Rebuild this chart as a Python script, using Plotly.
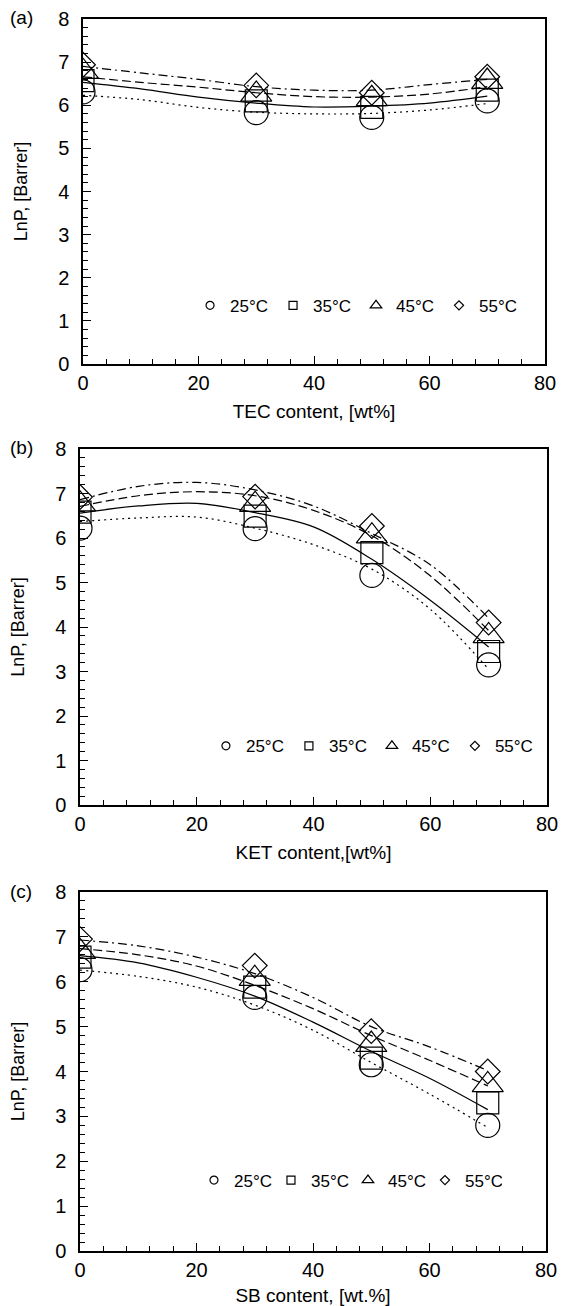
import plotly.graph_objects as go

# ---------------- data ----------------
temps = ["25°C", "35°C", "45°C", "55°C"]
x_pts = [0, 30, 50, 70]
x_fit = [0, 10, 20, 30, 40, 50, 60, 70]

# panel (a) TEC
a_pts = {
    "25°C": [6.31, 5.83, 5.72, 6.10],
    "35°C": [6.57, 6.10, 5.95, 6.35],
    "45°C": [6.78, 6.25, 6.15, 6.55],
    "55°C": [6.94, 6.46, 6.29, 6.66],
}
a_fit = {
    "25°C": [6.23, 6.13, 5.95, 5.84, 5.80, 5.81, 5.89, 6.04],
    "35°C": [6.53, 6.38, 6.19, 6.05, 5.96, 5.98, 6.05, 6.21],
    "45°C": [6.66, 6.53, 6.42, 6.29, 6.20, 6.19, 6.26, 6.43],
    "55°C": [6.90, 6.75, 6.60, 6.43, 6.35, 6.35, 6.48, 6.60],
}
# panel (b) KET
b_pts = {
    "25°C": [6.22, 6.21, 5.16, 3.15],
    "35°C": [6.58, 6.49, 5.67, 3.45],
    "45°C": [6.76, 6.75, 6.04, 3.80],
    "55°C": [6.92, 6.93, 6.27, 4.10],
}
b_fit = {
    "25°C": [6.37, 6.45, 6.47, 6.22, 5.85, 5.30, 4.40, 3.05],
    "35°C": [6.56, 6.72, 6.78, 6.57, 6.25, 5.52, 4.60, 3.55],
    "45°C": [6.71, 6.95, 7.04, 6.95, 6.62, 6.05, 5.15, 3.92],
    "55°C": [6.86, 7.16, 7.25, 7.08, 6.72, 6.10, 5.40, 4.20],
}
# panel (c) SB
c_pts = {
    "25°C": [6.27, 5.65, 4.15, 2.80],
    "35°C": [6.55, 5.88, 4.30, 3.30],
    "45°C": [6.67, 6.07, 4.60, 3.70],
    "55°C": [6.95, 6.36, 4.90, 4.00],
}
c_fit = {
    "25°C": [6.26, 6.12, 5.88, 5.48, 4.92, 4.20, 3.50, 2.75],
    "35°C": [6.58, 6.42, 6.10, 5.68, 5.10, 4.45, 3.85, 3.15],
    "45°C": [6.74, 6.60, 6.35, 5.92, 5.40, 4.80, 4.25, 3.68],
    "55°C": [6.93, 6.80, 6.55, 6.18, 5.65, 5.00, 4.55, 4.02],
}

panel_labels = ["(a)", "(b)", "(c)"]
x_titles = ["TEC content, [wt%]", "KET content,[wt%]", "SB content, [wt.%]"]
y_title = "LnP, [Barrer]"
x_ticks = [0, 20, 40, 60, 80]
y_ticks = [0, 1, 2, 3, 4, 5, 6, 7, 8]

# ---------------- styles ----------------
W, H = 570, 1306
symbols = {"25°C": "circle-open", "35°C": "square-open",
           "45°C": "triangle-up-open", "55°C": "diamond-open"}
msize = {"25°C": 24, "35°C": 22, "45°C": 27, "55°C": 19}
lsize = {"25°C": 8, "35°C": 8, "45°C": 10, "55°C": 7}
dashes = {"25°C": "2px,4px", "35°C": "solid",
          "45°C": "9px,4px", "55°C": "9px,4px,2px,4px"}
FONT = "Liberation Sans, Arial, sans-serif"

# pixel boxes (left, right, top, bottom)
boxes = [(83, 545, 19, 364), (80, 547, 449, 805), (80, 546, 892, 1251)]
# legend anchor in data units (x of first symbol, y) and entry width (None = natural)
legend_pos = [(22.0, 1.35), (25.0, 1.32), (23.0, 1.57)]
legend_entry = [None, None, 32]

fig = go.Figure()
datasets = [(a_pts, a_fit), (b_pts, b_fit), (c_pts, c_fit)]

for i, (pts, fit) in enumerate(datasets):
    xa = "x" if i == 0 else f"x{i+1}"
    ya = "y" if i == 0 else f"y{i+1}"
    lg = "legend" if i == 0 else f"legend{i+1}"
    for t in temps:
        fig.add_trace(go.Scatter(
            x=x_fit, y=fit[t], mode="lines", xaxis=xa, yaxis=ya,
            line=dict(color="black", width=1.2, dash=dashes[t], shape="spline"),
            showlegend=False, hoverinfo="skip"))
    for t in temps:
        fig.add_trace(go.Scatter(
            x=x_pts, y=pts[t], mode="markers", xaxis=xa, yaxis=ya,
            marker=dict(symbol=symbols[t], size=msize[t], color="black",
                        line=dict(width=1.2, color="black")),
            showlegend=False))
    for t in temps:
        fig.add_trace(go.Scatter(
            x=[None], y=[None], mode="markers", xaxis=xa, yaxis=ya,
            marker=dict(symbol=symbols[t], size=lsize[t], color="black",
                        line=dict(width=1.2, color="black")),
            name=t, legend=lg, showlegend=True))

layout = dict(width=W, height=H, margin=dict(l=0, r=0, t=0, b=0, autoexpand=False),
              paper_bgcolor="white", plot_bgcolor="white",
              font=dict(family=FONT, color="black"))

annotations = []
for i, (l, r, t, b) in enumerate(boxes):
    sfx = "" if i == 0 else str(i + 1)
    xdom = [l / W, r / W]
    ydom = [1 - b / H, 1 - t / H]
    layout["xaxis" + sfx] = dict(
        domain=xdom, range=[0, 80], anchor="y" + sfx, automargin=False,
        tickvals=x_ticks, ticktext=[str(v) for v in x_ticks],
        ticks="inside", ticklen=8, tickwidth=1.2, tickcolor="black",
        minor=dict(ticks="inside", dtick=4, ticklen=5, tickwidth=1, tickcolor="black"),
        showline=True, linecolor="black", linewidth=1.5, mirror=True,
        showgrid=False, zeroline=False,
        tickfont=dict(size=20, family=FONT),
        title=dict(text=x_titles[i], font=dict(size=19, family=FONT), standoff=12))
    layout["yaxis" + sfx] = dict(
        domain=ydom, range=[0, 8], anchor="x" + sfx, automargin=False,
        tickvals=y_ticks, ticktext=[str(v) for v in y_ticks],
        ticks="inside", ticklen=8, tickwidth=1.2, tickcolor="black",
        minor=dict(ticks="inside", dtick=0.2, ticklen=5, tickwidth=1, tickcolor="black"),
        showline=True, linecolor="black", linewidth=1.5, mirror=True,
        showgrid=False, zeroline=False, ticklabelstandoff=8,
        tickfont=dict(size=20, family=FONT),
        title=dict(text=y_title, font=dict(size=18, family=FONT), standoff=26))
    lx, ly = legend_pos[i]
    leg = dict(
        orientation="h", x=(l + lx / 80 * (r - l) - 20) / W,
        y=1 - (b - ly / 8 * (b - t)) / H,
        xanchor="left", yanchor="middle", bgcolor="rgba(0,0,0,0)",
        font=dict(size=17, family=FONT), itemwidth=30)
    if legend_entry[i]:
        leg["entrywidth"] = legend_entry[i]
        leg["entrywidthmode"] = "pixels"
    layout["legend" if i == 0 else f"legend{i+1}"] = leg
    annotations.append(dict(text=panel_labels[i], x=8 / W, y=1 - (t - 1) / H,
                            xref="paper", yref="paper", xanchor="left",
                            yanchor="middle", showarrow=False,
                            font=dict(size=19, family=FONT)))

layout["annotations"] = annotations
fig.update_layout(**layout)
fig.write_html("out.html")
